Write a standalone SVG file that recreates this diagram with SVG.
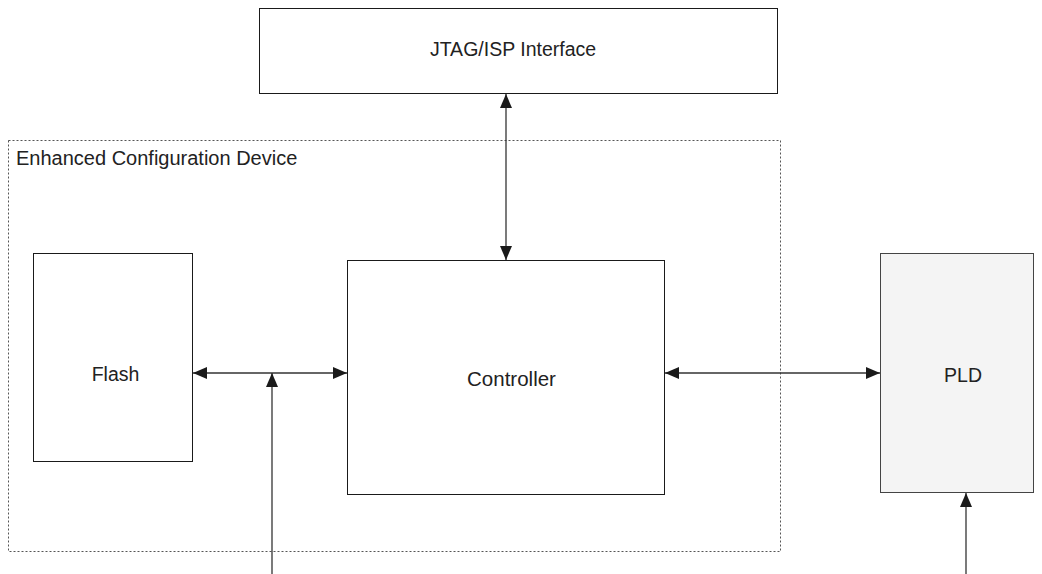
<svg xmlns="http://www.w3.org/2000/svg" width="1042" height="574" viewBox="0 0 1042 574">
<defs>
<marker id="ah" viewBox="0 0 14 12" refX="14" refY="6" markerWidth="14" markerHeight="12" markerUnits="userSpaceOnUse" orient="auto-start-reverse">
<path d="M0,0 L14,6 L0,12 Z" fill="#1a1a1a"/>
</marker>
<style>
.box{fill:#fff;stroke:#1a1a1a;stroke-width:1}
.lbl{font-family:"Liberation Sans",Arial,sans-serif;font-size:19.5px;fill:#222;text-anchor:middle}
.con{stroke:#333;stroke-width:1.3;fill:none}
</style>
</defs>
<rect width="1042" height="574" fill="#fff"/>
<g id="device">
<rect x="8.5" y="140.5" width="772" height="411" fill="none" stroke="#555" stroke-width="1" stroke-dasharray="2,2"/>
<text x="16" y="165" font-family="Liberation Sans,Arial,sans-serif" font-size="20" fill="#222">Enhanced Configuration Device</text>
</g>
<g id="jtag">
<rect class="box" x="259.5" y="8.5" width="518" height="85"/>
<text class="lbl" x="513" y="56">JTAG/ISP Interface</text>
</g>
<g id="flash">
<rect class="box" x="33.5" y="253.5" width="159" height="208"/>
<text class="lbl" x="115.5" y="381">Flash</text>
</g>
<g id="controller">
<rect class="box" x="347.5" y="260.5" width="317" height="234"/>
<text class="lbl" x="511.5" y="386" style="font-size:20.5px">Controller</text>
</g>
<g id="pld">
<rect x="880.5" y="253.5" width="153" height="239" fill="#f4f4f4" stroke="#444" stroke-width="1"/>
<text class="lbl" x="963" y="382">PLD</text>
</g>
<g id="connectors">
<line class="con" x1="506" y1="94" x2="506" y2="260" marker-start="url(#ah)" marker-end="url(#ah)"/>
<line class="con" x1="193" y1="373" x2="347" y2="373" marker-start="url(#ah)" marker-end="url(#ah)"/>
<line class="con" x1="272" y1="574" x2="272" y2="373" marker-end="url(#ah)"/>
<line class="con" x1="665" y1="373" x2="880" y2="373" marker-start="url(#ah)" marker-end="url(#ah)"/>
<line class="con" x1="966" y1="574" x2="966" y2="493" marker-end="url(#ah)"/>
</g>
</svg>
